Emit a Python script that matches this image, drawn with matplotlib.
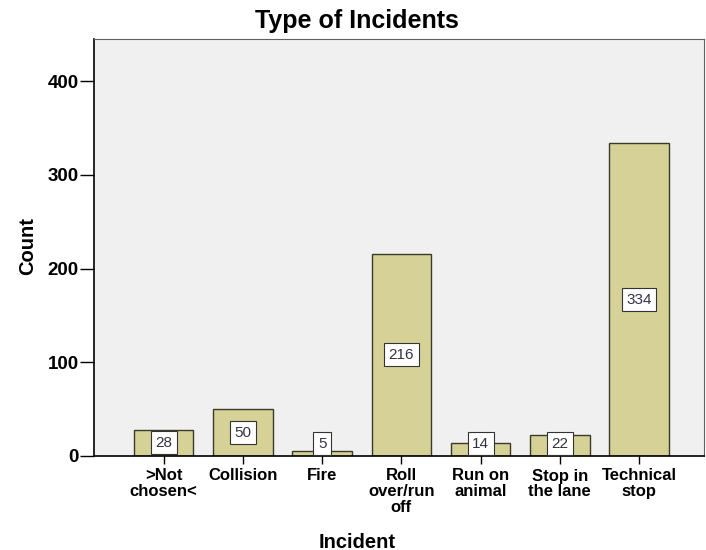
import matplotlib
matplotlib.use("Agg")
import matplotlib.pyplot as plt

plt.rcParams["font.family"] = ["Liberation Sans", "DejaVu Sans"]

categories = [">Not\nchosen<", "Collision", "Fire", "Roll\nover/run\noff",
              "Run on\nanimal", "Stop in\nthe lane", "Technical\nstop"]
counts = [28, 50, 5, 216, 14, 22, 334]
y_ticks = [0, 100, 200, 300, 400]

w_pix, h_pix, dpi = 706, 550, 100
fig = plt.figure(figsize=(w_pix / dpi, h_pix / dpi), dpi=dpi)
fig.patch.set_facecolor("white")

# 描画エリア (ピクセルから比率へ)
left, right, bottom, top = 94, 704, 456, 39
ax = fig.add_axes([left / w_pix, 1 - bottom / h_pix,
                   (right - left) / w_pix, (bottom - top) / h_pix])
ax.set_facecolor("#f0f0f0")

x = range(len(categories))
ax.bar(x, counts, width=0.75, color="#d5d197", edgecolor="#3a3a2a", linewidth=1.0, zorder=2)

for i, v in enumerate(counts):
    ax.text(i, max(v / 2, 13), str(v), ha="center", va="center", fontsize=11,
            color="#333344", zorder=3,
            bbox=dict(boxstyle="square,pad=0.3", facecolor="white", edgecolor="#333333", linewidth=0.8))

ax.set_xlim(-0.88, 6.82)
ax.set_ylim(0, 445)
ax.set_yticks(y_ticks)
ax.set_yticklabels([str(t) for t in y_ticks], fontsize=13.5, fontweight="bold")
ax.set_xticks(list(x))
ax.set_xticklabels(categories, fontsize=12, fontweight="bold", linespacing=1.08)
ax.tick_params(axis="y", direction="out", length=10, width=1, color="black", pad=1)
ax.tick_params(axis="x", direction="out", length=6, width=1, color="black", pad=3)

for s in ["top", "right"]:
    ax.spines[s].set_color("#606060")
    ax.spines[s].set_linewidth(0.8)
for s in ["left", "bottom"]:
    ax.spines[s].set_color("black")
    ax.spines[s].set_linewidth(1.2)

fig.text(357 / w_pix, 1 - 21 / h_pix, "Type of Incidents", ha="center", va="center",
         fontsize=18, fontweight="bold")
fig.text(357 / w_pix, 1 - 542 / h_pix, "Incident", ha="center", va="center",
         fontsize=14.5, fontweight="bold")
fig.text(28 / w_pix, 1 - 246 / h_pix, "Count", ha="center", va="center", rotation=90,
         fontsize=14.5, fontweight="bold")

fig.savefig("out.png", dpi=dpi)
